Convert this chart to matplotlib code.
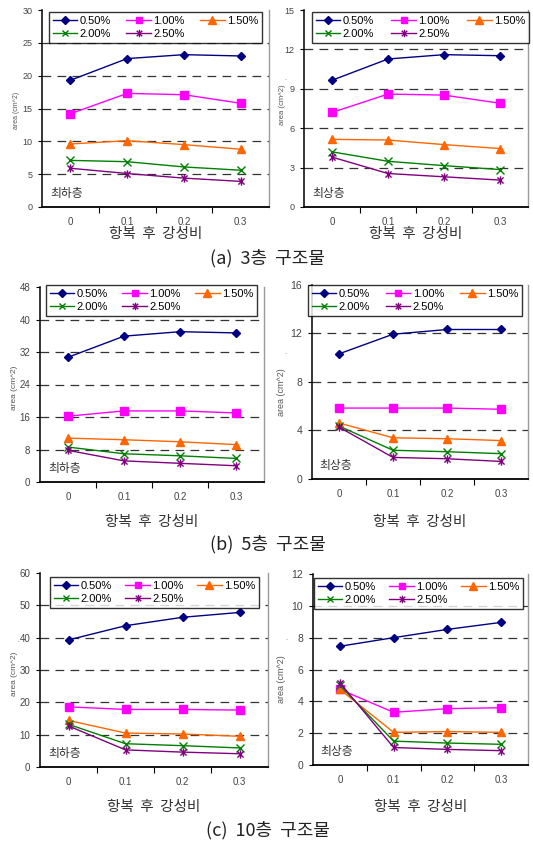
import matplotlib
matplotlib.use('Agg')
import matplotlib.pyplot as plt
from matplotlib.path import Path
import numpy as np

plt.rcParams['font.family'] = ['Liberation Sans', 'Noto Sans CJK KR', 'DejaVu Sans']

# data
x_labels = ['0', '0.1', '0.2', '0.3']
series_names = ['0.50%', '1.00%', '1.50%', '2.00%', '2.50%']

# (a) 3-storey
a_low = [[19.3, 22.6, 23.2, 23.0],
         [14.2, 17.3, 17.1, 15.8],
         [9.6, 10.1, 9.5, 8.8],
         [7.1, 6.9, 6.1, 5.6],
         [5.9, 5.1, 4.4, 3.9]]
a_top = [[9.65, 11.27, 11.6, 11.52],
         [7.2, 8.6, 8.52, 7.9],
         [5.15, 5.1, 4.75, 4.45],
         [4.2, 3.48, 3.15, 2.85],
         [3.8, 2.55, 2.3, 2.05]]
# (b) 5-storey
b_low = [[30.7, 35.9, 37.0, 36.7],
         [16.2, 17.5, 17.5, 17.0],
         [10.8, 10.4, 9.9, 9.2],
         [8.6, 6.95, 6.45, 5.8],
         [7.8, 5.2, 4.6, 4.0]]
b_top = [[10.32, 11.94, 12.33, 12.33],
         [5.85, 5.85, 5.85, 5.75],
         [4.62, 3.4, 3.32, 3.17],
         [4.37, 2.37, 2.25, 2.09],
         [4.28, 1.78, 1.67, 1.45]]
# (c) 10-storey
c_low = [[39.3, 43.7, 46.3, 47.8],
         [18.6, 17.8, 17.8, 17.6],
         [14.4, 10.5, 10.2, 9.5],
         [13.2, 7.2, 6.6, 5.9],
         [12.7, 5.3, 4.6, 4.1]]
c_top = [[7.46, 8.0, 8.52, 8.96],
         [4.75, 3.31, 3.54, 3.6],
         [4.75, 2.05, 2.1, 2.05],
         [5.0, 1.5, 1.38, 1.3],
         [5.17, 1.1, 0.98, 0.9]]

colors = ['#000080', '#ff00ff', '#ff6600', '#008000', '#800080']

# asterisk like marker (x with vertical bar)
star = Path([(-1, -1), (1, 1), (-1, 1), (1, -1), (0, -1.35), (0, 1.35)],
            [Path.MOVETO, Path.LINETO, Path.MOVETO, Path.LINETO, Path.MOVETO, Path.LINETO])
markers = ['D', 's', '^', 'x', star]
msizes = [4.5, 5.5, 6, 5.5, 6]

W, H = 533, 843
fig = plt.figure(figsize=(W / 100, H / 100), dpi=100)


def px_rect(l, t, r, b):
    return [l / W, 1 - b / H, (r - l) / W, (b - t) / H]


panels = [
    # data, ymax, step, axes box px, legend box px, floor text, ylabel x, ylabel y,
    # tick font, label font, dot, xlabel offset
    (a_low, 30, 5, (42, 10, 269, 207), (49, 12, 262, 43), '최하층', 16, 110, 6.5, 5, None, 27),
    (a_top, 15, 3, (304, 10, 528, 207), (312, 12, 529, 44), '최상층', 282, 105, 6.5, 5.5, (285, 79), 27),
    (b_low, 48, 8, (40, 287, 264, 482), (46, 285, 257, 316), '최하층', 15, 388, 7, 6, None, 40),
    (b_top, 16, 4, (312, 285, 528, 479), (308, 285, 522, 317), '최상층', 282, 392, 7.5, 6.5, (285, 352), 43),
    (c_low, 60, 10, (40, 573, 268, 767), (50, 577, 259, 606), '최하층', 15, 674, 7, 6, (18, 641), 40),
    (c_top, 12, 2, (313, 574, 528, 765), (314, 578, 523, 612), '최상층', 282, 679, 7.5, 6.5, (286, 638), 42),
]

xs = np.arange(len(x_labels))
for data, ymax, step, box, lbox, floor, ylx, lly, tfs, lfs, dot, xoff in panels:
    ax = fig.add_axes(px_rect(*box))
    yt = np.arange(0, ymax + step / 2, step)
    for v in yt[1:-1]:
        ax.axhline(v, color='#333333', lw=0.9, ls=(0, (7, 5)), zorder=1)
    handles = []
    for i in range(5):
        h, = ax.plot(xs, data[i], color=colors[i], marker=markers[i], ms=msizes[i],
                     mfc=colors[i], mec=colors[i], mew=1.0, lw=1.0, zorder=3,
                     label=series_names[i])
        handles.append(h)
    ax.set_xlim(-0.5, 3.5)
    ax.set_ylim(0, ymax)
    ax.set_yticks(yt)
    ax.set_yticklabels([str(int(v)) for v in yt])
    ax.set_xticks(xs)
    ax.set_xticklabels(x_labels)
    ax.set_xticks([0.5, 1.5, 2.5], minor=True)
    ax.tick_params(axis='x', which='major', length=0, labelsize=7, colors='#444444', pad=7)
    ax.tick_params(axis='x', which='minor', length=4, width=0.8, direction='out', color='black')
    ax.tick_params(axis='y', length=3, width=0.8, labelsize=tfs, colors='black',
                   labelcolor='#444444', pad=4)
    ax.spines['top'].set_visible(False)
    ax.spines['right'].set_color('#999999')
    ax.spines['right'].set_linewidth(1.0)
    ax.spines['left'].set_linewidth(1.1)
    ax.spines['bottom'].set_linewidth(1.3)
    ax.text(0.035, 0.07, floor, transform=ax.transAxes, fontsize=8.5, color='#333333',
            ha='left', va='center', family=['Noto Sans CJK KR'])
    order = [0, 3, 1, 4, 2]
    lx0, ly0, lw_, lh_ = px_rect(*lbox)
    leg = ax.legend([handles[k] for k in order], [series_names[k] for k in order],
                    ncol=3, loc='upper left', mode='expand',
                    bbox_to_anchor=(lx0, ly0, lw_, lh_), bbox_transform=fig.transFigure,
                    fontsize=8, frameon=True, fancybox=False, handlelength=2.2,
                    handletextpad=0.2, borderaxespad=0, borderpad=0.35,
                    labelspacing=0.25, columnspacing=0.5, markerscale=0.9)
    leg.get_frame().set_edgecolor('black')
    leg.get_frame().set_linewidth(1.0)
    leg.set_zorder(5)
    # y label
    fig.text(ylx / W, 1 - lly / H, 'area (cm^2)', rotation=90, fontsize=lfs,
             color='#555555', ha='center', va='center')
    if dot is not None:
        fig.text(dot[0] / W, 1 - dot[1] / H, '.', fontsize=5, color='#555555',
                 ha='center', va='center')
    # x label
    cx = (box[0] + box[2]) / 2
    fig.text(cx / W, 1 - (box[3] + xoff) / H, '항복  후  강성비', fontsize=10.5,
             color='#333333', ha='center', va='center', family=['Noto Sans CJK KR'])

captions = [('(a)  3층  구조물', 258), ('(b)  5층  구조물', 544), ('(c)  10층  구조물', 830)]
for cap, cy in captions:
    fig.text(268 / W, 1 - cy / H, cap, fontsize=13, color='#222222', ha='center',
             va='center', family=['Noto Sans CJK KR'])

fig.savefig('out.png', dpi=100)
